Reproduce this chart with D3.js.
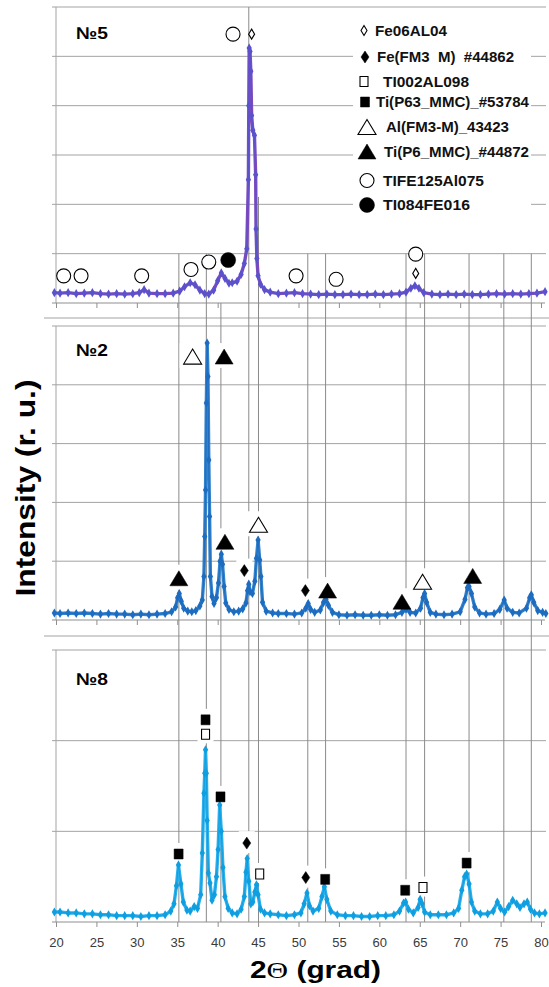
<!DOCTYPE html>
<html>
<head>
<meta charset="utf-8">
<script src="https://cdn.jsdelivr.net/npm/d3@7"></script>
<style>
body { margin: 0; background: #fff; }
svg { display: block; }
text { font-family: "Liberation Sans", Arial, sans-serif; }
</style>
</head>
<body>
<div id="xrdchart"></div>
<script>
// phases shown in the legend (index used by the peak labels below)
var phases = ["Fe06AL04", "Fe(FM3  M)  #44862", "TI002AL098", "Ti(P63_MMC)_#53784",
              "Al(FM3-M)_43423", "Ti(P6_MMC)_#44872", "TIFE125Al075", "TI084FE016"];

var sampleNames = ["№5", "№2", "№8"];
var xTicks = [20, 25, 30, 35, 40, 45, 50, 55, 60, 65, 70, 75, 80];

// reflexes marked by the vertical lines (2theta, grad)
var refLines = [35.2, 38.6, 40.4, 43.85, 45.05, 51.15, 53.35, 63.3, 65.6, 71.1, 75.4, 78.8];

// scans: [2theta, intensity r.u.]
var scan5 = [
  [19.8,0.21],[20.5,0.20],[21.5,0.21],[22.5,0.19],[23.5,0.20],[24.5,0.21],[25.5,0.19],[26.5,0.18],
  [27.5,0.19],[28.5,0.18],[29.5,0.19],[30.3,0.21],[30.9,0.27],[31.5,0.20],[32.5,0.19],[33.5,0.19],
  [34.5,0.20],[35.3,0.24],[35.9,0.33],[36.6,0.41],[37.2,0.37],[37.8,0.26],[38.4,0.19],[38.9,0.18],
  [39.5,0.26],[40.0,0.45],[40.45,0.61],[40.9,0.50],[41.4,0.40],[41.8,0.41],[42.4,0.44],[42.9,0.58],
  [43.3,0.80],[43.6,1.10],[43.8,2.50],[43.85,4.00],[43.9,5.17],[44.0,5.10],[44.1,4.70],[44.2,3.80],
  [44.35,3.50],[44.55,3.40],[44.7,2.60],[44.75,1.50],[44.85,0.90],[45.0,0.55],[45.3,0.38],[45.8,0.27],
  [46.5,0.22],[47.5,0.19],[48.5,0.20],[49.5,0.21],[50.5,0.19],[51.5,0.18],[52.5,0.17],[53.5,0.18],
  [54.5,0.17],[55.5,0.17],[56.5,0.18],[57.5,0.17],[58.5,0.17],[59.5,0.18],[60.5,0.17],[61.5,0.18],
  [62.5,0.19],[63.3,0.22],[63.9,0.30],[64.4,0.35],[64.9,0.30],[65.5,0.21],[66.5,0.18],[67.5,0.17],
  [68.5,0.18],[69.5,0.17],[70.5,0.18],[71.5,0.17],[72.5,0.17],[73.5,0.18],[74.5,0.19],[75.5,0.18],
  [76.5,0.19],[77.5,0.18],[78.5,0.19],[79.5,0.20],[80.5,0.23]
];
var scan2 = [
  [19.8,0.12],[20.5,0.11],[21.5,0.12],[22.5,0.11],[23.5,0.12],[24.5,0.11],[25.5,0.10],[26.5,0.11],
  [27.5,0.10],[28.5,0.10],[29.5,0.09],[30.5,0.10],[31.5,0.09],[32.5,0.10],[33.5,0.11],[34.3,0.14],
  [34.8,0.22],[35.05,0.38],[35.25,0.45],[35.5,0.32],[35.8,0.20],[36.3,0.15],[36.8,0.14],[37.3,0.16],
  [37.8,0.24],[38.1,0.34],[38.3,0.74],[38.4,1.42],[38.5,2.21],[38.6,3.69],[38.7,4.71],[38.8,4.14],
  [38.9,2.72],[39.0,1.76],[39.1,0.74],[39.3,0.40],[39.55,0.28],[39.85,0.38],[40.1,0.63],[40.3,1.00],
  [40.45,1.12],[40.6,0.95],[40.8,0.57],[41.0,0.29],[41.4,0.18],[42.0,0.14],[42.6,0.15],[43.1,0.19],
  [43.5,0.29],[43.7,0.50],[43.85,0.61],[44.0,0.48],[44.3,0.45],[44.6,0.66],[44.8,1.05],[45.0,1.36],
  [45.2,1.02],[45.35,0.74],[45.55,0.30],[46.0,0.15],[46.8,0.12],[47.5,0.11],[48.5,0.11],[49.5,0.10],
  [50.4,0.12],[50.9,0.20],[51.2,0.28],[51.5,0.18],[52.0,0.13],[52.7,0.17],[53.1,0.30],[53.4,0.35],
  [53.7,0.25],[54.2,0.13],[55.0,0.09],[56.0,0.08],[57.0,0.09],[58.0,0.08],[59.0,0.08],[60.0,0.09],
  [61.0,0.08],[62.0,0.09],[62.8,0.13],[63.3,0.18],[63.8,0.13],[64.5,0.12],[65.1,0.20],[65.4,0.38],
  [65.6,0.45],[65.85,0.30],[66.3,0.13],[67.0,0.10],[68.0,0.09],[69.0,0.10],[70.0,0.14],[70.6,0.35],
  [70.9,0.55],[71.1,0.57],[71.4,0.45],[71.8,0.22],[72.4,0.12],[73.2,0.10],[74.2,0.11],[74.9,0.18],
  [75.45,0.34],[75.8,0.20],[76.5,0.13],[77.3,0.12],[78.2,0.20],[78.6,0.38],[78.8,0.43],[79.1,0.30],
  [79.6,0.16],[80.2,0.13],[80.6,0.11]
];
var scan8 = [
  [19.8,0.11],[20.5,0.11],[21.5,0.10],[22.5,0.10],[23.5,0.09],[24.5,0.09],[25.5,0.08],[26.5,0.08],
  [27.5,0.07],[28.5,0.07],[29.5,0.07],[30.5,0.06],[31.5,0.07],[32.5,0.07],[33.5,0.08],[34.2,0.12],
  [34.6,0.20],[34.9,0.40],[35.15,0.63],[35.45,0.42],[35.75,0.22],[36.2,0.13],[36.6,0.12],[37.1,0.17],
  [37.5,0.15],[37.9,0.30],[38.1,0.76],[38.3,1.42],[38.4,1.64],[38.5,1.90],[38.6,1.64],[38.7,1.12],
  [38.85,0.54],[39.05,0.43],[39.3,0.24],[39.6,0.30],[39.85,0.50],[40.05,0.80],[40.25,1.29],[40.45,1.00],
  [40.65,0.60],[40.9,0.28],[41.3,0.15],[41.8,0.10],[42.4,0.09],[42.9,0.14],[43.3,0.28],[43.5,0.55],
  [43.65,0.70],[43.85,0.45],[44.1,0.20],[44.35,0.22],[44.6,0.33],[44.8,0.41],[45.0,0.30],[45.3,0.14],
  [45.8,0.10],[46.5,0.09],[47.5,0.08],[48.5,0.07],[49.5,0.08],[50.3,0.10],[50.7,0.20],[51.05,0.32],
  [51.35,0.18],[51.8,0.12],[52.5,0.15],[52.9,0.28],[53.2,0.39],[53.5,0.25],[54.0,0.12],[54.8,0.08],
  [55.8,0.07],[56.8,0.07],[57.8,0.06],[58.8,0.06],[59.8,0.07],[60.8,0.07],[61.8,0.08],[62.5,0.12],
  [63.0,0.21],[63.25,0.22],[63.6,0.14],[64.2,0.10],[64.8,0.16],[65.05,0.25],[65.3,0.20],[65.6,0.11],
  [66.3,0.08],[67.3,0.08],[68.3,0.08],[69.2,0.10],[69.8,0.15],[70.2,0.35],[70.55,0.50],[70.8,0.53],
  [71.1,0.42],[71.4,0.22],[71.8,0.12],[72.5,0.09],[73.4,0.09],[74.1,0.12],[74.6,0.22],[75.0,0.15],
  [75.5,0.11],[76.0,0.17],[76.5,0.24],[77.0,0.20],[77.4,0.16],[77.9,0.20],[78.3,0.22],[78.7,0.14],
  [79.2,0.10],[79.8,0.09],[80.5,0.10]
];

// peak labels: [2theta, intensity, phase index]
var marks5 = [
  [20.95,0.55,6],[23.1,0.55,6],[30.6,0.55,6],[36.7,0.68,6],[38.9,0.83,6],[41.3,0.87,7],
  [49.7,0.55,6],[54.65,0.48,6],[64.5,0.99,6],[64.5,0.60,0],[41.9,5.45,6],[44.2,5.45,0]
];
var marks2 = [
  [36.9,4.48,4],[40.8,4.48,5],[35.2,0.71,5],[40.9,1.33,5],[43.3,0.84,1],[45.05,1.62,4],
  [50.85,0.50,1],[53.6,0.50,5],[62.8,0.31,5],[65.35,0.65,4],[71.55,0.75,5]
];
var marks8 = [
  [35.17,0.75,3],[38.5,2.23,3],[38.5,2.07,2],[40.35,1.38,3],[43.6,0.87,1],[45.2,0.53,2],
  [50.9,0.49,1],[53.3,0.47,3],[63.2,0.35,3],[65.4,0.38,2],[70.8,0.65,3]
];

var width = 549, height = 987;
var svg = d3.select("#xrdchart").append("svg")
    .attr("width", width)
    .attr("height", height);
svg.append("rect").attr("width", width).attr("height", height).attr("fill", "#fff");

var x = d3.scaleLinear().domain([20, 80]).range([56, 541]);

var panels = [
  {name: sampleNames[0], scan: scan5, marks: marks5, ymax: 6, top: 7,   bottom: 303, line: "#7a4cc0", dot: "#5a52cc", labelY: 39,  box: false},
  {name: sampleNames[1], scan: scan2, marks: marks2, ymax: 5, top: 326, bottom: 620, line: "#3282cc", dot: "#1d6cc0", labelY: 356, box: true},
  {name: sampleNames[2], scan: scan8, marks: marks8, ymax: 3, top: 650, bottom: 922, line: "#2cb0ec", dot: "#0f9fe0", labelY: 685, box: true}
];
panels.forEach(function(p) {
  p.y = d3.scaleLinear().domain([0, p.ymax]).range([p.bottom, p.top]);
});

// symbols for each phase
var phaseSymbol = [
  {shape: "diamond",  fill: false, w: 6,  h: 10},
  {shape: "diamond",  fill: true,  w: 8,  h: 12},
  {shape: "square",   fill: false, w: 8,  h: 10},
  {shape: "square",   fill: true,  w: 9,  h: 10},
  {shape: "triangle", fill: false, w: 18, h: 15},
  {shape: "triangle", fill: true,  w: 18, h: 15},
  {shape: "circle",   fill: false, w: 14, h: 14},
  {shape: "circle",   fill: true,  w: 15, h: 15}
];

function symbolPath(s) {
  var w = s.w / 2, h = s.h / 2;
  if (s.shape == "diamond") return "M0," + (-h) + "L" + w + ",0L0," + h + "L" + (-w) + ",0Z";
  if (s.shape == "square") return "M" + (-w) + "," + (-h) + "H" + w + "V" + h + "H" + (-w) + "Z";
  if (s.shape == "triangle") return "M0," + (-h) + "L" + w + "," + h + "H" + (-w) + "Z";
  return d3.arc()({innerRadius: 0, outerRadius: w, startAngle: 0, endAngle: 2 * Math.PI});
}

function drawSymbol(g, idx, cx, cy) {
  var s = phaseSymbol[idx];
  g.append("path")
    .attr("d", symbolPath(s))
    .attr("transform", "translate(" + cx + "," + cy + ")")
    .attr("fill", s.fill ? "#000" : "#fff")
    .attr("stroke", "#000")
    .attr("stroke-width", s.fill ? 0.5 : 1.1);
}

var gridColor = "#a3a3a3";

// horizontal grid + left axis
panels.forEach(function(p) {
  var g = svg.append("g").attr("class", "grid");
  g.selectAll("line.h")
    .data(d3.range(1, p.ymax + 1))
    .enter().append("line")
    .attr("x1", 52).attr("x2", 546)
    .attr("y1", function(d) { return p.y(d); })
    .attr("y2", function(d) { return p.y(d); })
    .attr("stroke", gridColor).attr("stroke-width", 1);
  g.append("line")
    .attr("x1", x(20)).attr("x2", x(20))
    .attr("y1", p.y(p.ymax)).attr("y2", p.y(0))
    .attr("stroke", gridColor);
  g.append("line")
    .attr("x1", 52).attr("x2", 545)
    .attr("y1", p.y(0)).attr("y2", p.y(0))
    .attr("stroke", "#8f8f8f");
});

// separators between the panels
[318, 636].forEach(function(yy) {
  svg.append("line").attr("x1", 44).attr("x2", 549).attr("y1", yy).attr("y2", yy)
    .attr("stroke", gridColor);
});

// x axes
panels.forEach(function(p, i) {
  var axis = d3.axisBottom(x)
    .tickValues(xTicks)
    .tickSize(5)
    .tickSizeOuter(0)
    .tickFormat(i == 2 ? d3.format("d") : "");
  var ga = svg.append("g")
    .attr("transform", "translate(0," + p.y(0) + ")")
    .call(axis);
  ga.select(".domain").remove();
  ga.selectAll(".tick line").attr("stroke", "#8f8f8f");
  ga.selectAll(".tick text")
    .attr("y", 25).attr("dy", 0)
    .attr("fill", "#3a3a3a")
    .style("font-size", "13px");
});

// vertical reference lines
var y5 = panels[0].y, y8 = panels[2].y;
svg.append("g").selectAll("line")
  .data(refLines)
  .enter().append("line")
  .attr("x1", function(d) { return x(d); })
  .attr("x2", function(d) { return x(d); })
  .attr("y1", function(d) {
    if (d == 43.85) return y5(6);
    if (d == 45.05) return y5(2.15);
    if (d == 40.4) return y5(0);
    return y5(1);
  })
  .attr("y2", y8(0))
  .attr("stroke", "#8a8a8a")
  .attr("stroke-width", 1);

// white boxes behind labels (panels 2 and 3)
panels.forEach(function(p) {
  if (!p.box) return;
  svg.append("g").selectAll("rect")
    .data(p.marks)
    .enter().append("rect")
    .attr("x", function(d) { return x(d[0]) - phaseSymbol[d[2]].w / 2 - 4; })
    .attr("y", function(d) { return p.y(d[1]) - phaseSymbol[d[2]].h / 2 - 6; })
    .attr("width", function(d) { return phaseSymbol[d[2]].w + 8; })
    .attr("height", function(d) { return phaseSymbol[d[2]].h + 10; })
    .attr("fill", "#fff");
});

// scans
panels.forEach(function(p) {
  var line = d3.line()
    .x(function(d) { return x(d[0]); })
    .y(function(d) { return p.y(d[1]); });
  svg.append("path")
    .datum(p.scan)
    .attr("d", line)
    .attr("fill", "none")
    .attr("stroke", p.line)
    .attr("stroke-width", 3.4)
    .attr("stroke-linejoin", "round");
  svg.append("path")
    .datum(p.scan)
    .attr("d", line)
    .attr("fill", "none")
    .attr("stroke", p.dot)
    .attr("stroke-width", 1);
  svg.append("g").selectAll("path")
    .data(p.scan)
    .enter().append("path")
    .attr("d", d3.symbol().type(d3.symbolDiamond).size(24))
    .attr("transform", function(d) { return "translate(" + x(d[0]) + "," + p.y(d[1]) + ")"; })
    .attr("fill", p.dot);
});

// peak labels
panels.forEach(function(p) {
  var g = svg.append("g");
  p.marks.forEach(function(d) {
    drawSymbol(g, d[2], x(d[0]), p.y(d[1]));
  });
  svg.append("text")
    .attr("x", 76).attr("y", p.labelY)
    .attr("textLength", 32).attr("lengthAdjust", "spacingAndGlyphs")
    .style("font-size", "17px").style("font-weight", "bold")
    .text(p.name);
});

// legend
var legRowY = [30.5, 57, 81.5, 102, 127, 151.5, 180.5, 205];
var legSymX = [364, 365, 364, 365, 367, 367, 367, 367];
var legTextX = [375, 377, 383, 376, 386, 384, 383, 383];
var legTextW = [72, 137, 86, 153, 123, 145, 101, 87];
var legend = svg.append("g").attr("class", "legend");
legend.append("rect")
  .attr("x", 353).attr("y", 14).attr("width", 178).attr("height", 208)
  .attr("fill", "#fff");
phases.forEach(function(name, i) {
  drawSymbol(legend, i, legSymX[i], legRowY[i]);
  legend.append("text")
    .attr("x", legTextX[i]).attr("y", legRowY[i] + 5)
    .attr("textLength", legTextW[i]).attr("lengthAdjust", "spacingAndGlyphs")
    .attr("xml:space", "preserve")
    .style("white-space", "pre")
    .style("font-size", "14px").style("font-weight", "bold")
    .attr("fill", "#111")
    .text(name);
});

// axis titles
svg.append("text")
  .attr("transform", "translate(35,488) rotate(-90)")
  .attr("text-anchor", "middle")
  .attr("textLength", 217).attr("lengthAdjust", "spacingAndGlyphs")
  .style("font-size", "27px").style("font-weight", "bold")
  .text("Intensity (r. u.)");

var xt = svg.append("text")
  .attr("x", 250).attr("y", 978)
  .attr("textLength", 131).attr("lengthAdjust", "spacingAndGlyphs")
  .style("font-size", "23px").style("font-weight", "bold");
xt.append("tspan").text("2");
xt.append("tspan").style("font-family", "'Liberation Serif', serif").style("font-weight", "normal").text("Θ");
xt.append("tspan").text(" (grad)");
</script>
</body>
</html>
